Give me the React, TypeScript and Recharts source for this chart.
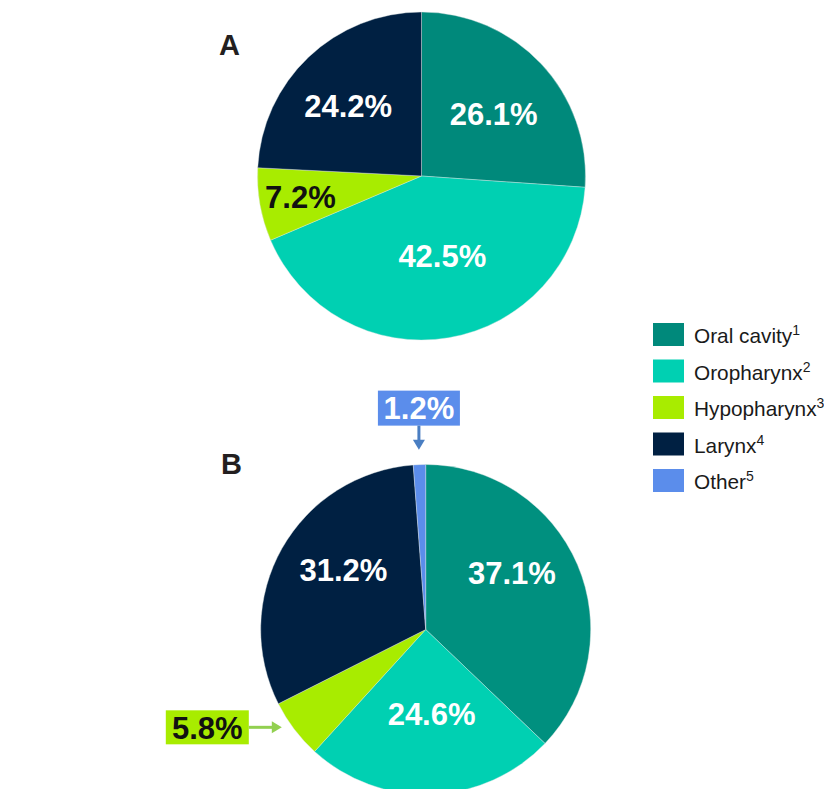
import { PieChart, Pie, Cell } from 'recharts'

const categories = ['Oral cavity', 'Oropharynx', 'Hypopharynx', 'Larynx', 'Other']
const footnotes = ['1', '2', '3', '4', '5']
const colors = ['#00897B', '#00D0B2', '#A8EC00', '#002042', '#5B8DEB']

const valuesA = [26.1, 42.5, 7.2, 24.2]
const valuesB = [37.1, 24.6, 5.8, 31.2, 1.2]

const dataA = valuesA.map((v, i) => ({ name: categories[i], value: v }))
const dataB = valuesB.map((v, i) => ({ name: categories[i], value: v }))

// label placement: distance from centre, angle nudge in degrees, optional callout
type Place = { r: number; shift: number; callout?: 'up' | 'left' }
const placeA: Place[] = [
  { r: 95, shift: -2.5 },
  { r: 83, shift: 5 },
  { r: 123, shift: 0 },
  { r: 101, shift: 3 },
]
const placeB: Place[] = [
  { r: 103, shift: 10 },
  { r: 85, shift: 2 },
  { r: 174, shift: -3, callout: 'left' },
  { r: 101, shift: -6 },
  { r: 180, shift: 0, callout: 'up' },
]

const FONT = '"Liberation Sans", Arial, sans-serif'
const RAD = Math.PI / 180

function makeLabel(place: Place[]) {
  return (props: any) => {
    const { cx, cy, midAngle, index, value } = props
    const p = place[index]
    if (!p) return null
    const a = (midAngle + p.shift) * RAD
    const x = cx + p.r * Math.cos(a)
    const y = cy - p.r * Math.sin(a)
    const text = `${Number(value).toFixed(1)}%`
    const dark = index === 2
    const txt = (tx: number, ty: number) => (
      <text
        x={tx}
        y={ty}
        textAnchor="middle"
        dominantBaseline="central"
        fill={dark ? '#111' : '#fff'}
        fontSize={31}
        fontWeight="bold"
        fontFamily={FONT}
      >
        {text}
      </text>
    )
    if (!p.callout) return txt(x, y)
    if (p.callout === 'up') {
      return (
        <g>
          <rect x={x - 41} y={y - 59} width={82} height={35} fill={colors[index]} />
          {txt(x, y - 41)}
          <line x1={x} y1={y - 24} x2={x} y2={y - 9} stroke="#4A7EC2" strokeWidth={3} />
          <polygon points={`${x - 6},${y - 10} ${x + 6},${y - 10} ${x},${y}`} fill="#4A7EC2" />
        </g>
      )
    }
    return (
      <g>
        <rect x={x - 116} y={y - 17} width={83} height={34} fill={colors[index]} />
        {txt(x - 74.5, y + 1)}
        <line x1={x - 33} y1={y} x2={x - 9} y2={y} stroke="#92D050" strokeWidth={3} />
        <polygon points={`${x - 10},${y - 6} ${x - 10},${y + 6} ${x},${y}`} fill="#92D050" />
      </g>
    )
  }
}

export default function App() {
  return (
    <div style={{ position: 'absolute', left: 0, top: 0, width: 824, height: 789, overflow: 'hidden', background: '#fff' }}>
      <PieChart width={824} height={789} margin={{ top: 0, right: 0, bottom: 0, left: 0 }}>
        <Pie
          data={dataA}
          dataKey="value"
          cx={421.5}
          cy={176}
          outerRadius={164}
          startAngle={90}
          endAngle={-270}
          stroke="#dfe6e6"
          strokeWidth={0.4}
          label={makeLabel(placeA)}
          labelLine={false}
          isAnimationActive={false}
        >
          {dataA.map((d, i) => (
            <Cell key={d.name} fill={colors[i]} />
          ))}
        </Pie>
        <Pie
          data={dataB}
          dataKey="value"
          cx={425.7}
          cy={629.5}
          outerRadius={165}
          startAngle={90}
          endAngle={-270}
          stroke="#dfe6e6"
          strokeWidth={0.4}
          label={makeLabel(placeB)}
          labelLine={false}
          isAnimationActive={false}
        >
          {dataB.map((d, i) => (
            <Cell key={d.name} fill={i === 0 ? '#00907F' : colors[i]} />
          ))}
        </Pie>
      </PieChart>
      <svg width={824} height={789} style={{ position: 'absolute', left: 0, top: 0, pointerEvents: 'none' }}>
        <text x={219} y={55} fontSize={29} fontWeight="bold" fill="#231F20" fontFamily={FONT}>A</text>
        <text x={221} y={474} fontSize={29} fontWeight="bold" fill="#231F20" fontFamily={FONT}>B</text>
        {categories.map((c, i) => {
          const top = 323 + i * 36.5
          return (
            <g key={c}>
              <rect x={653} y={top} width={31} height={23} fill={colors[i]} />
              <text x={694} y={top + 20} fontSize={20.8} fill="#1a1a1a" fontFamily={FONT}>
                {c}
                <tspan fontSize={14} dy={-8}>{footnotes[i]}</tspan>
              </text>
            </g>
          )
        })}
      </svg>
    </div>
  )
}
